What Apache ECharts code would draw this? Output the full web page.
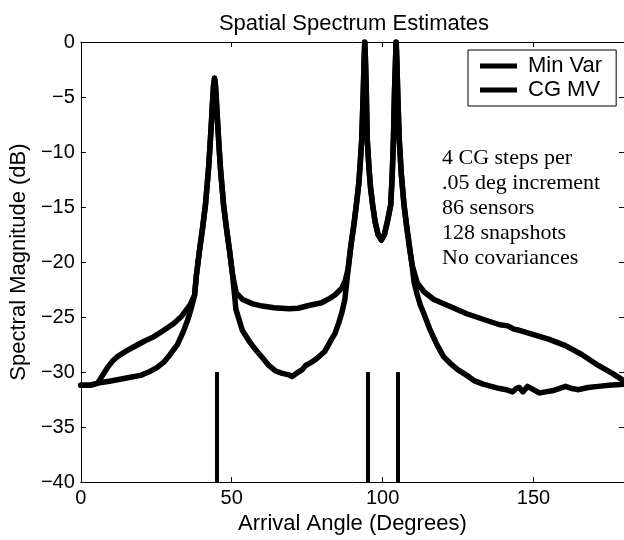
<!DOCTYPE html>
<html><head><meta charset="utf-8">
<script src="https://cdn.jsdelivr.net/npm/echarts@6/dist/echarts.min.js"></script>
<style>html,body{margin:0;padding:0;background:#fff}#c{width:624px;height:540px}</style>
</head><body><div id="c"></div>
<script>
// ---- data ----
const chartTitle = 'Spatial Spectrum Estimates';
const xTitle = 'Arrival Angle (Degrees)';
const yTitle = 'Spectral Magnitude (dB)';
const seriesNames = ['Min Var', 'CG MV'];
const noteLines = ['4 CG steps per', '.05 deg increment', '86 sensors', '128 snapshots', 'No covariances'];
const sourceAngles = [45, 95, 105];
const sourceMarkTop = -30;
const sourceMarkBottom = -40;

const minVarAngles = [0,3,5.6,9,12.1,16,19.8,22.5,25.2,27.5,29.6,32,34,35.5,36.7,37.7,
  38.3,39.3,40.3,41.3,42.3,42.8,43.3,43.7,44.0,44.3,44.6,44.9,45.3,45.8,46.3,47.3,48.3,49.3,50.3,
  51.4,53.5,55.8,58,60.2,62.3,64.5,66.5,68.9,70,71.5,73.3,74.5,76.5,78.5,80.9,83.1,84.2,85.5,86.5,87.5,88.6,
  89.5,90.5,91.3,92.1,92.6,93.1,93.6,93.9,94.1,94.3,94.6,94.9,95.5,96.0,96.7,97.5,98.5,99.6,100.6,101.6,102.7,103.2,103.6,103.95,104.3,104.5,104.7,105.0,105.5,106.2,107.1,108.0,109.0,109.8,
  110.4,111.5,112.5,113.7,115.5,118,120.2,122.4,125,127.9,130.5,133.3,136,138.8,141,143.1,144.2,145.3,146.5,148,150,151.9,154,156.2,158.5,160.6,162.8,165,168,171.5,175,180];
const minVarDb = [-31.2,-31.2,-31.0,-30.85,-30.7,-30.5,-30.3,-30.0,-29.6,-29.1,-28.4,-27.5,-26.3,-25.2,-24.1,-23.0,
  -21.2,-19.0,-17.0,-14.8,-11.6,-9.5,-7.2,-5.2,-3.9,-3.3,-3.9,-5.2,-7.2,-9.5,-11.6,-14.8,-17.0,-19.0,-21.2,
  -24.3,-26.2,-27.2,-28.0,-28.7,-29.4,-29.9,-30.1,-30.25,-30.4,-30.1,-29.8,-29.4,-29.1,-28.7,-28.1,-27.0,-26.5,-25.5,-24.6,-23.4,-20.6,
  -18.5,-16.6,-14.8,-12.9,-11.0,-8.8,-4.5,-1.5,0,-1.5,-4.5,-8.8,-11.5,-13.2,-14.8,-16.3,-17.5,-18.0,-17.5,-16.3,-14.8,-12.0,-8.8,-4.5,-1.5,0,-1.5,-4.5,-8.8,-12.0,-14.8,-16.8,-18.8,-20.3,
  -21.8,-23.0,-23.9,-24.7,-26.0,-27.5,-28.6,-29.2,-29.8,-30.3,-30.8,-31.1,-31.3,-31.5,-31.6,-31.8,-31.5,-31.4,-31.8,-31.3,-31.6,-31.9,-31.8,-31.7,-31.5,-31.3,-31.5,-31.6,-31.4,-31.3,-31.2,-31.1];

const cgAngles = [0,3,5.6,7.2,8.8,10.5,12.1,15,17.6,21,24.1,27.5,30.7,33.5,36.2,37.7,
  38.3,39.3,40.3,41.3,42.3,42.8,43.3,43.7,44.0,44.3,44.6,44.9,45.3,45.8,46.3,47.3,48.3,49.3,50.3,
  51.5,53.6,57,60.2,64,69,72,75.5,79.8,82.5,84.2,86.4,87.5,88.6,
  89.5,90.5,91.3,92.1,92.6,93.1,93.6,93.9,94.1,94.3,94.6,94.9,95.5,96.0,96.7,97.5,98.5,99.6,100.6,101.6,102.7,103.2,103.6,103.95,104.3,104.5,104.7,105.0,105.5,106.2,107.1,108.0,109.0,109.8,
  111.5,113.7,117,122,127.9,133.3,138.8,141.5,143.5,145.3,150,155,160.6,166,171.5,176,180];
const cgDb = [-31.2,-31.2,-31.0,-30.3,-29.6,-29.0,-28.6,-28.1,-27.7,-27.2,-26.8,-26.2,-25.6,-24.9,-23.9,-23.0,
  -21.2,-19.0,-17.0,-14.8,-11.6,-9.5,-7.2,-5.2,-3.9,-3.3,-3.9,-5.2,-7.2,-9.5,-11.6,-14.8,-17.0,-19.0,-21.2,
  -22.8,-23.4,-23.8,-24.0,-24.15,-24.25,-24.2,-23.95,-23.7,-23.3,-23.0,-22.4,-21.8,-20.6,
  -18.5,-16.6,-14.8,-12.9,-11.0,-8.8,-4.5,-1.5,0,-1.5,-4.5,-8.8,-11.5,-13.2,-14.8,-16.3,-17.5,-18.0,-17.5,-16.3,-14.8,-12.0,-8.8,-4.5,-1.5,0,-1.5,-4.5,-8.8,-12.0,-14.8,-16.8,-18.8,-20.3,
  -21.9,-22.7,-23.4,-24.0,-24.7,-25.2,-25.7,-25.8,-26.1,-26.2,-26.6,-27.0,-27.6,-28.4,-29.4,-30.1,-30.8];

const xTicks = {min: 0, max: 180, interval: 50};
const yTicks = {min: -40, max: 0, interval: 5};

// ---- build ----
const pair = (xs, ys) => xs.map((x, i) => [x, ys[i]]);
const sans = 'Liberation Sans';
const tickFs = 20;
const nameFs = 22;
const lineW = 5.5;

const chart = echarts.init(document.getElementById('c'), null, {renderer: 'canvas'});
const axisCommon = {
  axisLine: {show: true, onZero: false, lineStyle: {color: '#000', width: 1}},
  axisTick: {show: true, inside: true, length: 5, lineStyle: {color: '#000'}},
  splitLine: {show: false},
};
chart.setOption({
  animation: false,
  backgroundColor: '#fff',
  title: {text: chartTitle, left: 349, top: 8, textAlign: 'center',
    textStyle: {fontFamily: sans, fontSize: 22, fontWeight: 'normal', color: '#000'}},
  grid: {left: 76, right: -2, top: 42, bottom: 56, containLabel: false},
  legend: {
    data: seriesNames, orient: 'vertical', left: 468, top: 50,
    backgroundColor: '#fff', borderColor: '#000', borderWidth: 1,
    padding: [5, 14, 5, 12], itemGap: 2, itemWidth: 37, itemHeight: 22,
    icon: 'path://M0,0 L37,0 L37,5 L0,5 Z',
    textStyle: {fontFamily: sans, fontSize: nameFs, color: '#000', padding: [0, 0, 0, 6]},
  },
  xAxis: [
    Object.assign({type: 'value', min: xTicks.min, max: xTicks.max, interval: xTicks.interval,
      name: xTitle, nameLocation: 'middle', nameGap: 30,
      nameTextStyle: {fontFamily: sans, fontSize: nameFs, color: '#000'},
      axisLabel: {fontFamily: sans, fontSize: tickFs, color: '#000', margin: 6, showMaxLabel: false}}, axisCommon),
    Object.assign({type: 'value', position: 'top', min: xTicks.min, max: xTicks.max, interval: xTicks.interval,
      axisLabel: {show: false}}, axisCommon),
  ],
  yAxis: [
    Object.assign({type: 'value', min: yTicks.min, max: yTicks.max, interval: yTicks.interval,
      name: yTitle, nameLocation: 'middle', nameGap: 47,
      nameTextStyle: {fontFamily: sans, fontSize: nameFs, color: '#000'},
      axisLabel: {fontFamily: sans, fontSize: tickFs, color: '#000', margin: 6,
        formatter: v => String(v).replace('-', '\u2212')}}, axisCommon),
    Object.assign({type: 'value', position: 'right', min: yTicks.min, max: yTicks.max, interval: yTicks.interval,
      axisLabel: {show: false}}, axisCommon),
  ],
  graphic: [{
    type: 'text', left: 442, top: 146,
    style: {text: noteLines.join('\n'), fontFamily: 'Liberation Serif', fontSize: 22, lineHeight: 25, fill: '#000'}
  }],
  series: [
    {name: seriesNames[0], type: 'line', data: pair(minVarAngles, minVarDb), showSymbol: false, symbol: 'none',
      lineStyle: {color: '#000', width: lineW, cap: 'round', join: 'round'}, itemStyle: {color: '#000'}, clip: true,
      markLine: {silent: true, symbol: 'none', label: {show: false},
        lineStyle: {color: '#000', width: 4, type: 'solid'},
        data: sourceAngles.map(a => [{coord: [a, sourceMarkBottom]}, {coord: [a, sourceMarkTop]}])}},
    {name: seriesNames[1], type: 'line', data: pair(cgAngles, cgDb), showSymbol: false, symbol: 'none',
      lineStyle: {color: '#000', width: lineW, cap: 'round', join: 'round'}, itemStyle: {color: '#000'}, clip: true},
  ],
});
</script></body></html>
